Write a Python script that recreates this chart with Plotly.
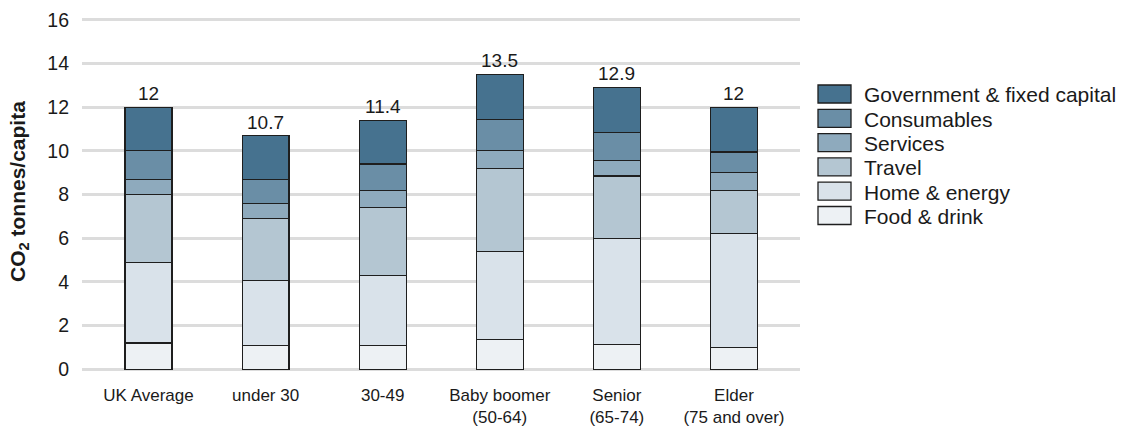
import plotly.graph_objects as go

# Age groups along the x axis
categories = ["UK Average", "under 30", "30-49", "Baby boomer<br>(50-64)",
              "Senior<br>(65-74)", "Elder<br>(75 and over)"]

# Footprint components, tonnes CO2 per capita (stacked bottom to top)
food_drink = [1.2, 1.1, 1.1, 1.35, 1.15, 1.0]
home_energy = [3.7, 2.95, 3.2, 4.05, 4.85, 5.2]
travel = [3.1, 2.85, 3.1, 3.8, 2.85, 2.0]
services = [0.7, 0.7, 0.8, 0.8, 0.7, 0.8]
consumables = [1.3, 1.1, 1.2, 1.45, 1.3, 0.95]
government = [2.0, 2.0, 2.0, 2.05, 2.05, 2.05]

series_names = ["Food & drink", "Home & energy", "Travel", "Services",
                "Consumables", "Government & fixed capital"]
series_values = [food_drink, home_energy, travel, services, consumables, government]
series_colors = ["#edf1f4", "#d9e2ea", "#b4c6d2", "#8eaabd", "#6a8ea6", "#46728f"]

yticks = [0, 2, 4, 6, 8, 10, 12, 14, 16]

totals = [round(sum(v), 1) for v in zip(*series_values)]

# Canvas geometry
W, H = 1125, 429
ML, MR, MT, MB = 82, 325, 18, 58
PW, PH = W - ML - MR, H - MT - MB

FONT = "Liberation Sans, Arial, sans-serif"


def px_x(px):
    return (px - ML) / PW


def px_y(py):
    return (H - MB - py) / PH


fig = go.Figure()
for name, vals, col in zip(series_names, series_values, series_colors):
    fig.add_trace(go.Bar(
        x=categories, y=vals, name=name, width=0.4,
        marker=dict(color=col, line=dict(color="#1e1e1e", width=1.2)),
        showlegend=False, hoverinfo="skip",
    ))

# Totals above each bar
for cat, tot in zip(categories, totals):
    fig.add_annotation(
        x=cat, y=tot, text=f"{tot:g}", showarrow=False,
        yanchor="bottom", yshift=1,
        font=dict(family=FONT, size=19, color="#1a1a1a"),
    )

# Legend drawn as swatches + labels, top entry = top of stack
shapes = []
for i, (name, col) in enumerate(zip(reversed(series_names), reversed(series_colors))):
    cy = 94 + 24.3 * i
    shapes.append(dict(
        type="rect", xref="paper", yref="paper",
        x0=px_x(818), x1=px_x(851), y0=px_y(cy + 9), y1=px_y(cy - 9),
        fillcolor=col, line=dict(color="#1e1e1e", width=1.3),
    ))
    fig.add_annotation(
        xref="paper", yref="paper", x=px_x(862), y=px_y(cy + 1),
        text=name, showarrow=False, xanchor="left", yanchor="middle",
        font=dict(family=FONT, size=21, color="#1a1a1a"),
    )

# Y axis title
fig.add_annotation(
    xref="paper", yref="paper", x=px_x(19), y=px_y(192),
    text="<b>CO<sub>2</sub> tonnes/capita</b>", showarrow=False, textangle=-90,
    xanchor="center", yanchor="middle",
    font=dict(family=FONT, size=21, color="#1a1a1a"),
)

fig.update_layout(
    barmode="stack",
    width=W, height=H,
    margin=dict(l=ML, r=MR, t=MT, b=MB, pad=0, autoexpand=False),
    paper_bgcolor="white", plot_bgcolor="white",
    shapes=shapes,
    xaxis=dict(
        range=[-0.568, 5.564], showgrid=False, zeroline=False, showline=False,
        ticks="", ticklabelstandoff=12, automargin=False,
        tickfont=dict(family=FONT, size=17, color="#1a1a1a"),
    ),
    yaxis=dict(
        range=[-0.08, 16.08], tickvals=yticks, ticktext=[str(t) for t in yticks],
        showgrid=True, gridcolor="#dcdcdc", gridwidth=2.5,
        zeroline=False, showline=False, ticks="", ticklabelstandoff=12,
        automargin=False,
        tickfont=dict(family=FONT, size=19.5, color="#1a1a1a"),
    ),
)

fig.write_html("out.html")
